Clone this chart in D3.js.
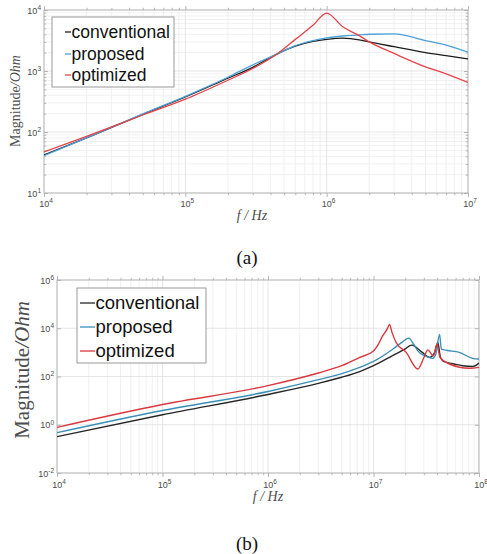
<!DOCTYPE html>
<html>
<head>
<meta charset="utf-8">
<script src="https://cdn.jsdelivr.net/npm/d3@7"></script>
<style>
  html, body { margin: 0; padding: 0; background: #fff; }
  svg { display: block; }
</style>
</head>
<body>
<svg id="chart" width="487" height="554"></svg>
<script>
// ---- data: panel (a) ----
const seriesNames = ["conventional", "proposed", "optimized"];

const freqA = [1e4, 2e4, 5e4, 1e5, 2e5, 3e5, 4.4e5, 6e5, 8e5, 1e6, 1.3e6, 1.7e6, 2e6, 3e6, 5e6, 7e6, 1e7];
const convA = [42, 80, 195, 375, 760, 1150, 1870, 2550, 3050, 3300, 3450, 3250, 3000, 2500, 2000, 1780, 1580];
const propA = [41, 80, 198, 385, 790, 1260, 1870, 2600, 3150, 3500, 3750, 3900, 4000, 4050, 3150, 2650, 2030];
const optA  = [47, 85, 190, 345, 705, 1100, 1870, 3300, 5600, 8900, 5300, 3800, 3000, 1940, 1170, 900, 650];

const xTicksA = [1e4, 1e5, 1e6, 1e7];
const yTicksA = [1e1, 1e2, 1e3, 1e4];

// ---- data: panel (b) ----
const convBf = [1e4, 1e5, 1e6, 3e6, 5e6, 7.4e6, 1e7, 1.5e7, 2e7, 2.3e7, 2.9e7, 3.4e7, 3.8e7, 4.07e7, 4.3e7, 4.6e7, 5.8e7, 7e7, 8.7e7, 1e8];
const convB  = [0.32, 2.6, 18, 52, 93, 160, 280, 710, 1400, 2000, 1000, 620, 1000, 2570, 650, 420, 330, 280, 260, 360];

const propBf = [1e4, 1e5, 1e6, 3e6, 5e6, 7.4e6, 1e7, 1.52e7, 1.9e7, 2.16e7, 2.4e7, 2.63e7, 3.16e7, 3.64e7, 3.9e7, 4.23e7, 4.4e7, 5e7, 6.5e7, 8.7e7, 1e8];
const propB  = [0.47, 3.9, 24, 74, 132, 240, 420, 1350, 2800, 3900, 2200, 1150, 680, 565, 850, 5600, 1360, 1200, 1000, 565, 530];

const optBf = [1e4, 1e5, 1e6, 3e6, 5e6, 7.4e6, 1e7, 1.1e7, 1.22e7, 1.35e7, 1.42e7, 1.5e7, 1.64e7, 2.04e7, 2.63e7, 3.0e7, 3.27e7, 3.7e7, 4.0e7, 4.27e7, 5.25e7, 8.1e7, 1e8];
const optB  = [0.78, 6.9, 42, 140, 280, 620, 1150, 2000, 4800, 9500, 14500, 6600, 2570, 1000, 204, 600, 1270, 720, 2200, 620, 330, 220, 240];

const xTicksB = [1e4, 1e5, 1e6, 1e7, 1e8];
const yTicksB = [1e-2, 1e0, 1e2, 1e4, 1e6];

const svg = d3.select("#chart");
const SANS = "'Liberation Sans', Arial, sans-serif";
const SERIF = "'Liberation Serif', 'Times New Roman', serif";

function exp10(v) { return Math.round(Math.log10(v)); }

function drawPanel(cfg) {
  const x = d3.scaleLog().domain(cfg.xDomain).range([cfg.left, cfg.right]);
  const y = d3.scaleLog().domain(cfg.yDomain).range([cfg.bottom, cfg.top]);
  const g = svg.append("g");

  // minor grid
  const xMinor = x.ticks().filter(v => !cfg.xTicks.includes(v));
  g.append("g").selectAll("line").data(xMinor).join("line")
    .attr("x1", d => x(d)).attr("x2", d => x(d))
    .attr("y1", cfg.top).attr("y2", cfg.bottom)
    .attr("stroke", "#ececec").attr("stroke-width", 0.8);
  if (cfg.yMinorGrid) {
    const yMinor = y.ticks().filter(v => !cfg.yTicks.includes(v));
    g.append("g").selectAll("line").data(yMinor).join("line")
      .attr("x1", cfg.left).attr("x2", cfg.right)
      .attr("y1", d => y(d)).attr("y2", d => y(d))
      .attr("stroke", "#ececec").attr("stroke-width", 0.8);
  }
  // major grid
  g.append("g").selectAll("line").data(cfg.xTicks).join("line")
    .attr("x1", d => x(d)).attr("x2", d => x(d))
    .attr("y1", cfg.top).attr("y2", cfg.bottom)
    .attr("stroke", "#e0e0e0").attr("stroke-width", 0.8);
  g.append("g").selectAll("line").data(cfg.yTicks).join("line")
    .attr("x1", cfg.left).attr("x2", cfg.right)
    .attr("y1", d => y(d)).attr("y2", d => y(d))
    .attr("stroke", "#e0e0e0").attr("stroke-width", 0.8);

  // axes (ticks inward on all sides)
  const styleAxis = ax => {
    ax.select(".domain").remove();
    ax.selectAll(".tick line").attr("stroke", "#9a9a9a").attr("stroke-width", 0.7);
    ax.selectAll(".tick text").remove();
  };
  const h = cfg.bottom - cfg.top, w = cfg.right - cfg.left;
  [[cfg.bottom, -1], [cfg.top, 1]].forEach(([yy, s]) => {
    g.append("g").attr("transform", `translate(0,${yy})`)
      .call(d3.axisBottom(x).tickValues(cfg.xTicks).tickSize(-4 * s)).call(styleAxis);
    g.append("g").attr("transform", `translate(0,${yy})`)
      .call(d3.axisBottom(x).tickValues(xMinor).tickSize(-2.2 * s)).call(styleAxis);
  });
  [[cfg.left, 1], [cfg.right, -1]].forEach(([xx, s]) => {
    g.append("g").attr("transform", `translate(${xx},0)`)
      .call(d3.axisLeft(y).tickValues(cfg.yTicks).tickSize(-4 * s)).call(styleAxis);
    if (cfg.yMinorGrid) {
      const yMinor = y.ticks().filter(v => !cfg.yTicks.includes(v));
      g.append("g").attr("transform", `translate(${xx},0)`)
        .call(d3.axisLeft(y).tickValues(yMinor).tickSize(-2.2 * s)).call(styleAxis);
    }
  });

  // box
  g.append("rect")
    .attr("x", cfg.left).attr("y", cfg.top).attr("width", w).attr("height", h)
    .attr("fill", "none").attr("stroke", "#b4b4b4").attr("stroke-width", 0.9);

  // tick labels with superscript
  const tl = (sel) => sel.each(function(d) {
    const t = d3.select(this);
    t.append("tspan").text("10");
    t.append("tspan").attr("dy", "-0.55em").style("font-size", "6.5px").text(exp10(d));
  });
  g.append("g").selectAll("text").data(cfg.xTicks).join("text")
    .attr("x", d => x(d) + 2).attr("y", cfg.bottom + cfg.xLabOff)
    .attr("text-anchor", "middle")
    .style("font-family", SANS).style("font-size", "9px").style("fill", "#4a4a4a")
    .call(tl);
  g.append("g").selectAll("text").data(cfg.yTicks).join("text")
    .attr("x", cfg.left - 3).attr("y", d => y(d) + 3.5)
    .attr("text-anchor", "end")
    .style("font-family", SANS).style("font-size", "9px").style("fill", "#4a4a4a")
    .call(tl);

  // series lines
  const line = d3.line().x(d => x(d[0])).y(d => y(d[1])).curve(d3.curveMonotoneX);
  const clipId = "clip" + cfg.id;
  svg.append("clipPath").attr("id", clipId).append("rect")
    .attr("x", cfg.left).attr("y", cfg.top).attr("width", w).attr("height", h);
  cfg.series.forEach((s, i) => {
    g.append("path")
      .datum(d3.zip(s.f, s.v))
      .attr("d", line)
      .attr("clip-path", `url(#${clipId})`)
      .attr("fill", "none")
      .attr("stroke", cfg.colors[i])
      .attr("stroke-width", cfg.lw);
  });

  // legend
  const L = cfg.legend;
  g.append("rect")
    .attr("x", L.x).attr("y", L.y).attr("width", L.w).attr("height", L.h)
    .attr("fill", "#fff").attr("stroke", "#8f8f8f").attr("stroke-width", 0.9);
  seriesNames.forEach((name, i) => {
    const cy = L.rows[i];
    g.append("line")
      .attr("x1", L.lx0).attr("x2", L.lx1).attr("y1", cy).attr("y2", cy)
      .attr("stroke", cfg.colors[i]).attr("stroke-width", 1.3);
    g.append("text")
      .attr("x", L.lx1 + 0.5).attr("y", cy).attr("dy", "0.35em")
      .style("font-family", SANS).style("font-size", L.fs + "px").style("fill", "#111")
      .text(name);
  });

  // axis titles
  const yl = g.append("text")
    .attr("transform", `translate(${cfg.yTitle.x},${cfg.yTitle.y}) rotate(-90)`)
    .attr("text-anchor", "middle").attr("dy", "0.35em")
    .style("font-family", SERIF).style("font-size", cfg.yTitle.fs + "px").style("fill", "#4d4d4d");
  yl.append("tspan").text("Magnitude");
  yl.append("tspan").style("font-style", "italic").text("/Ohm");

  g.append("text")
    .attr("x", cfg.xTitle.x).attr("y", cfg.xTitle.y).attr("dy", "0.35em")
    .attr("text-anchor", "middle")
    .style("font-family", SERIF).style("font-size", "14px").style("font-style", "italic")
    .style("fill", "#4d4d4d")
    .text("f / Hz");

  svg.append("text")
    .attr("x", cfg.caption.x).attr("y", cfg.caption.y).attr("dy", "0.35em")
    .attr("text-anchor", "middle")
    .style("font-family", SERIF).style("font-size", "19px").style("fill", "#111")
    .text(cfg.caption.t);
}

drawPanel({
  id: "a", left: 44, right: 468, top: 10, bottom: 193,
  xDomain: [1e4, 1e7], yDomain: [1e1, 1e4],
  xTicks: xTicksA, yTicks: yTicksA, yMinorGrid: true, xLabOff: 14,
  colors: ["#1c1c1c", "#4aa2d8", "#e8434a"], lw: 1.3,
  series: [{ f: freqA, v: convA }, { f: freqA, v: propA }, { f: freqA, v: optA }],
  legend: { x: 52, y: 17, w: 122, h: 70, lx0: 65, lx1: 71, rows: [32, 54, 75], fs: 17.5 },
  yTitle: { x: 15, y: 101, fs: 14 },
  xTitle: { x: 252, y: 215 },
  caption: { x: 247, y: 257, t: "(a)" }
});

drawPanel({
  id: "b", left: 57, right: 479, top: 280, bottom: 473,
  xDomain: [1e4, 1e8], yDomain: [1e-2, 1e6],
  xTicks: xTicksB, yTicks: yTicksB, yMinorGrid: false, xLabOff: 15,
  colors: ["#262626", "#3a8fb8", "#d9383f"], lw: 1.4,
  series: [{ f: convBf, v: convB }, { f: propBf, v: propB }, { f: optBf, v: optB }],
  legend: { x: 77, y: 288, w: 129, h: 75, lx0: 80, lx1: 95, rows: [303, 327, 351], fs: 18.5 },
  yTitle: { x: 22, y: 370, fs: 21 },
  xTitle: { x: 268, y: 496 },
  caption: { x: 247, y: 543, t: "(b)" }
});
</script>
</body>
</html>
